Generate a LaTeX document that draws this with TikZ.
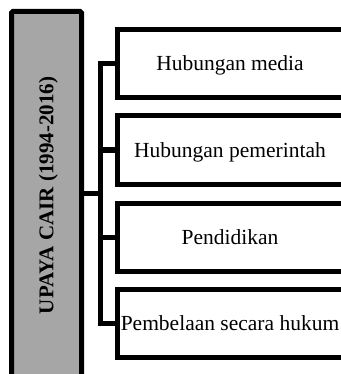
\documentclass[tikz,border=0pt]{standalone}
\usepackage{fontspec}
\setmainfont{Liberation Serif}
\begin{document}
\begin{tikzpicture}[x=1pt,y=-1pt,
  frame/.style={draw=black,line width=5pt},
  itembox/.style={frame,fill=white},
  lbl/.style={anchor=base,inner sep=0pt,font=\fontsize{21.5}{25}\selectfont},
  conn/.style={draw=black,line width=5pt}]
\useasboundingbox (0,0) rectangle (340,374);
% main gray box
\draw[frame,fill=black!35,rounded corners=1.5pt] (11.5,390) -- (11.5,11.5) -- (81.5,11.5) -- (81.5,390);
\node[rotate=90,anchor=base,inner sep=0pt,font=\fontsize{21}{25}\selectfont\bfseries] (main) at (53.3,195.5) {UPAYA CAIR (1994-2016)};
\coordinate (mainR) at (81.5,193);
% item boxes
\foreach \i/\c/\t in {1/63.5/Hubungan media,2/150/Hubungan pemerintah,3/237/Pendidikan,4/323/Pembelaan secara hukum}{
  \draw[itembox] (117,\c-34) rectangle (346,\c+34);
  \coordinate (b\i) at (117,\c);
  \node[lbl] (t\i) at (230,\c+7.5) {\t};
}
\coordinate (trunkTop) at (100.5,63.5);
\coordinate (trunkBot) at (100.5,323);
\coordinate (trunkMid) at (100.5,193);
\draw[conn,line cap=rect] (b1) -- (trunkTop) -- (trunkBot) -- (b4);
\draw[conn] (trunkTop |- b2) -- (b2);
\draw[conn] (trunkTop |- b3) -- (b3);
\draw[conn] (mainR) -- (trunkMid);
\end{tikzpicture}
\end{document}
